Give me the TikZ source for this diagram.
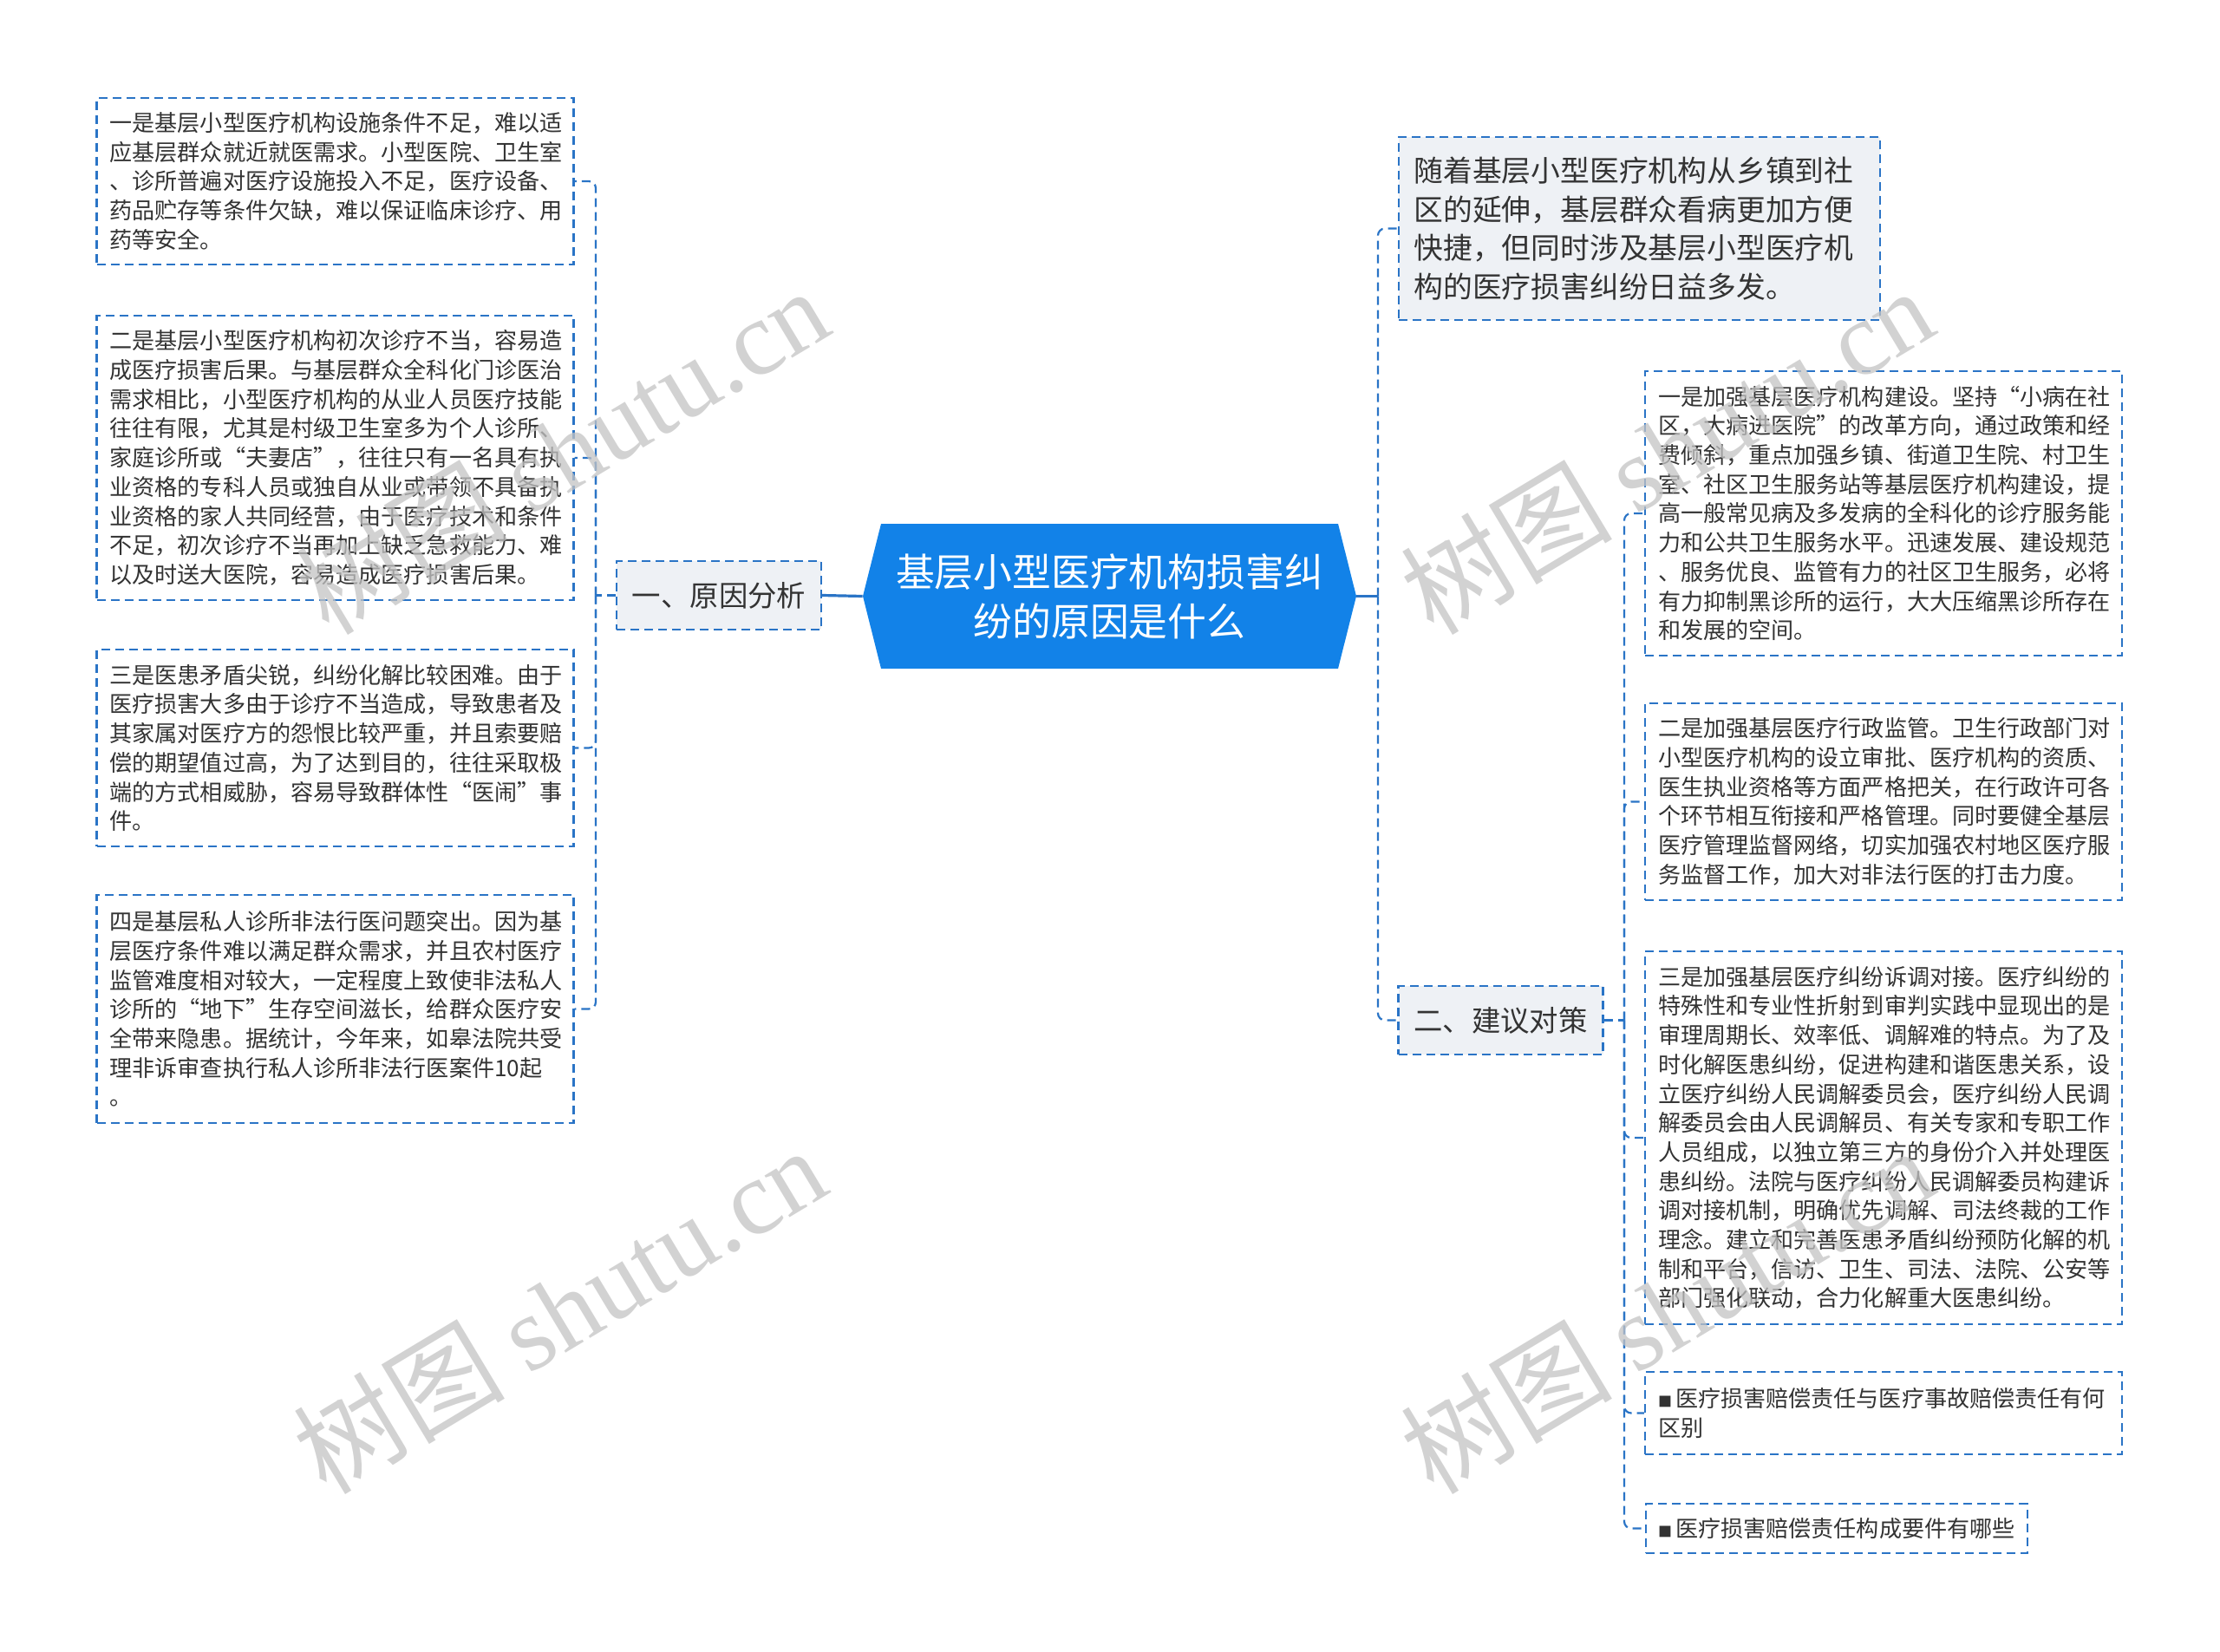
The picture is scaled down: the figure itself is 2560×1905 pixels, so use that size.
\documentclass[tikz,border=0pt]{standalone}
\usepackage{fontspec}
\setmainfont{Noto Sans CJK SC}
\newfontfamily\wmlatin{Liberation Serif}
\usetikzlibrary{calc}
\definecolor{rootblue}{HTML}{1282E8}
\definecolor{linkblue}{HTML}{2A74C6}
\definecolor{branchfill}{HTML}{EEF1F5}
\definecolor{txt}{HTML}{333333}
\definecolor{wmgray}{HTML}{C4C4C4}
\begin{document}
\begin{tikzpicture}[x=0.5pt,y=-0.5pt,
  dashline/.style={draw=linkblue, line width=1.1pt, dash pattern=on 5pt off 3pt},
  rootline/.style={draw=linkblue, line width=1.6pt},
  leafbox/.style={dashline, fill=white, text=txt, align=left, inner xsep=7.5pt, inner ysep=5pt,
    font=\fontsize{13.05pt}{16.85pt}\selectfont, text width=260pt},
  smallbox/.style={dashline, fill=white, text=txt, align=left, inner xsep=7pt, inner ysep=5pt,
    font=\fontsize{13.05pt}{16.85pt}\selectfont},
  branchbox/.style={dashline, fill=branchfill, text=txt, align=center, inner sep=0pt,
    minimum width=118pt, minimum height=39.5pt, font=\fontsize{16.7pt}{20pt}\selectfont},
  topbox/.style={dashline, fill=branchfill, text=txt, align=left, inner sep=0pt,
    minimum width=277.5pt, minimum height=105.5pt, text width=260pt,
    font=\fontsize{16.9pt}{22.3pt}\selectfont},
  rootnode/.style={inner sep=0pt, minimum width=284.5pt, minimum height=83.5pt, text=white,
    align=center, font=\fontsize{22.4pt}{28.6pt}\selectfont,
    path picture={\fill[rootblue] (path picture bounding box.west)
      -- ($(path picture bounding box.north west)+(21,0)$)
      -- ($(path picture bounding box.north east)+(-21,0)$)
      -- (path picture bounding box.east)
      -- ($(path picture bounding box.south east)+(-21,0)$)
      -- ($(path picture bounding box.south west)+(21,0)$) -- cycle;}},
  wmark/.style={text=wmgray, opacity=0.75, rotate=31, inner sep=0pt,
    font=\fontsize{61pt}{61pt}\selectfont}
]
\useasboundingbox (0,0) rectangle (2560,1905);
\fill[white] (0,0) rectangle (2560,1905);

% root
\node[rootnode] (root) at (1279.5,687.5) {基层小型医疗机构损害纠\\纷的原因是什么};

% branches
\node[branchbox] (b1) at (829,686.5) {一、原因分析};
\node[branchbox] (b2) at (1730.5,1176.5) {二、建议对策};
\node[topbox] (rtop) at (1890.5,263.5) {随着基层小型医疗机构从乡镇到社\\区的延伸，基层群众看病更加方便\\快捷，但同时涉及基层小型医疗机\\构的医疗损害纠纷日益多发。};

% left leaves
\node[leafbox, minimum height=96pt] (l1) at (386.5,209) {一是基层小型医疗机构设施条件不足，难以适\\应基层群众就近就医需求。小型医院、卫生室\\、诊所普遍对医疗设施投入不足，医疗设备、\\药品贮存等条件欠缺，难以保证临床诊疗、用\\药等安全。};
\node[leafbox, minimum height=164pt] (l2) at (386.5,528) {二是基层小型医疗机构初次诊疗不当，容易造\\成医疗损害后果。与基层群众全科化门诊医治\\需求相比，小型医疗机构的从业人员医疗技能\\往往有限，尤其是村级卫生室多为个人诊所、\\家庭诊所或“夫妻店”，往往只有一名具有执\\业资格的专科人员或独自从业或带领不具备执\\业资格的家人共同经营，由于医疗技术和条件\\不足，初次诊疗不当再加上缺乏急救能力、难\\以及时送大医院，容易造成医疗损害后果。};
\node[leafbox, minimum height=113.5pt] (l3) at (386.5,862.5) {三是医患矛盾尖锐，纠纷化解比较困难。由于\\医疗损害大多由于诊疗不当造成，导致患者及\\其家属对医疗方的怨恨比较严重，并且索要赔\\偿的期望值过高，为了达到目的，往往采取极\\端的方式相威胁，容易导致群体性“医闹”事\\件。};
\node[leafbox, minimum height=131.5pt] (l4) at (386.5,1163.5) {四是基层私人诊所非法行医问题突出。因为基\\层医疗条件难以满足群众需求，并且农村医疗\\监管难度相对较大，一定程度上致使非法私人\\诊所的“地下”生存空间滋长，给群众医疗安\\全带来隐患。据统计，今年来，如皋法院共受\\理非诉审查执行私人诊所非法行医案件10起\\。};

% right leaves
\node[leafbox, minimum height=164pt] (rA) at (2172,592) {一是加强基层医疗机构建设。坚持“小病在社\\区，大病进医院”的改革方向，通过政策和经\\费倾斜，重点加强乡镇、街道卫生院、村卫生\\室、社区卫生服务站等基层医疗机构建设，提\\高一般常见病及多发病的全科化的诊疗服务能\\力和公共卫生服务水平。迅速发展、建设规范\\、服务优良、监管有力的社区卫生服务，必将\\有力抑制黑诊所的运行，大大压缩黑诊所存在\\和发展的空间。};
\node[leafbox, minimum height=113.5pt] (rB) at (2172,924.5) {二是加强基层医疗行政监管。卫生行政部门对\\小型医疗机构的设立审批、医疗机构的资质、\\医生执业资格等方面严格把关，在行政许可各\\个环节相互衔接和严格管理。同时要健全基层\\医疗管理监督网络，切实加强农村地区医疗服\\务监督工作，加大对非法行医的打击力度。};
\node[leafbox, minimum height=215pt] (rC) at (2172,1312) {三是加强基层医疗纠纷诉调对接。医疗纠纷的\\特殊性和专业性折射到审判实践中显现出的是\\审理周期长、效率低、调解难的特点。为了及\\时化解医患纠纷，促进构建和谐医患关系，设\\立医疗纠纷人民调解委员会，医疗纠纷人民调\\解委员会由人民调解员、有关专家和专职工作\\人员组成，以独立第三方的身份介入并处理医\\患纠纷。法院与医疗纠纷人民调解委员构建诉\\调对接机制，明确优先调解、司法终裁的工作\\理念。建立和完善医患矛盾纠纷预防化解的机\\制和平台，信访、卫生、司法、法院、公安等\\部门强化联动，合力化解重大医患纠纷。};
\node[leafbox, minimum height=47.5pt] (rD) at (2172,1629.5) {{\fontsize{8pt}{8pt}\selectfont ■}\hspace{2pt}医疗损害赔偿责任与医疗事故赔偿责任有何\\区别};
\node[smallbox, minimum height=28.5pt, anchor=west] (rE) at (1897,1762.5) {{\fontsize{8pt}{8pt}\selectfont ■}\hspace{2pt}医疗损害赔偿责任构成要件有哪些};

% joints
\coordinate (ljoin) at (687,686.5);
\coordinate (rjoin) at (1589,687.5);
\coordinate (r2join) at (1873,1176.5);

% connectors
\draw[rootline] (root.west) -- (b1.east);
\draw[rootline] (root.east) -- (rjoin);
\draw[dashline, rounded corners=4pt] (rjoin) |- (rtop.west);
\draw[dashline, rounded corners=4pt] (rjoin) |- (b2.west);
\draw[dashline] (b1.west) -- (ljoin);
\foreach \n in {l1,l2,l3,l4} \draw[dashline, rounded corners=4pt] (ljoin) |- (\n.east);
\draw[dashline] (b2.east) -- (r2join);
\foreach \n in {rA,rB,rC,rD,rE} \draw[dashline, rounded corners=4pt] (r2join) |- (\n.west);

% watermarks
\node[wmark] (wm1) at (648,519) {树图 {\wmlatin shutu.cn}};
\node[wmark] (wm2) at (645,1510) {树图 {\wmlatin shutu.cn}};
\node[wmark] (wm3) at (1922,519) {树图 {\wmlatin shutu.cn}};
\node[wmark] (wm4) at (1922,1510) {树图 {\wmlatin shutu.cn}};
\end{tikzpicture}
\end{document}
